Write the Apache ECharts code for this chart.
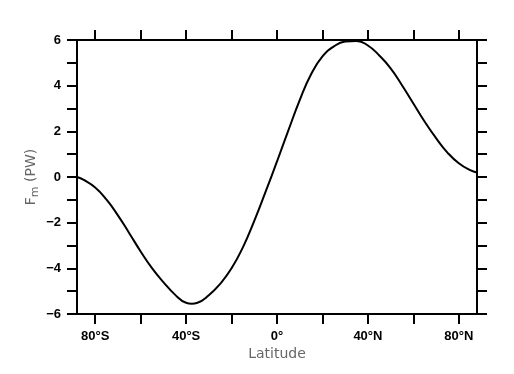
<!DOCTYPE html>
<html>
<head>
<meta charset="utf-8">
<script src="https://cdn.jsdelivr.net/npm/echarts@6/dist/echarts.min.js"></script>
<style>html,body{margin:0;padding:0;background:#fff;}#c{width:514px;height:374px;}</style>
</head>
<body>
<div id="c"></div>
<script>
const latitudes = [-88,-85,-80,-75,-70,-65,-60,-55,-50,-45,-40,-37.5,-35,-30,-25,-20,-15,-10,-5,0,5,10,15,20,25,30,35,40,45,50,55,60,65,70,75,80,85,88];
const fluxPW = [0.0,-0.13,-0.46,-0.99,-1.68,-2.46,-3.26,-3.99,-4.6,-5.14,-5.51,-5.55,-5.51,-5.18,-4.68,-4.0,-3.08,-1.92,-0.64,0.68,2.04,3.37,4.5,5.28,5.72,5.93,5.96,5.76,5.32,4.76,4.02,3.22,2.42,1.7,1.07,0.6,0.3,0.2];
const xTickValues = [-80,-60,-40,-20,0,20,40,60,80];
const xLabelValues = [-80,-40,0,40,80];
const xMin = -88, xMax = 88;
const yMin = -6, yMax = 6, yStep = 2;

function latLabel(v){
  if (v === 0) return '0°';
  return Math.abs(v) + '°' + (v < 0 ? 'S' : 'N');
}

const lineStyle = {color:'#000', width:2};
const labelFont = {color:'#000', fontSize:13, fontFamily:'Liberation Sans, Arial, sans-serif', fontWeight:'bold'};

const chart = echarts.init(document.getElementById('c'), null, {renderer:'canvas'});
chart.setOption({
  animation:false,
  backgroundColor:'#fff',
  grid:{left:77, right:37, top:40, bottom:60},
  xAxis:[{
    type:'value', position:'bottom', min:xMin, max:xMax,
    axisLine:{show:true, onZero:false, lineStyle:lineStyle},
    axisTick:{show:true, inside:false, length:10, customValues:xTickValues, lineStyle:lineStyle},
    axisLabel:{show:true, margin:16, customValues:xLabelValues, formatter:latLabel, ...labelFont},
    splitLine:{show:false},
    name:'Latitude', nameLocation:'middle', nameGap:33, nameMoveOverlap:false,
    nameTextStyle:{color:'#666', fontSize:14, fontFamily:'DejaVu Sans, sans-serif'}
  },{
    type:'value', position:'top', min:xMin, max:xMax,
    axisLine:{show:true, onZero:false, lineStyle:lineStyle},
    axisTick:{show:true, inside:false, length:10, customValues:xTickValues, lineStyle:lineStyle},
    axisLabel:{show:false},
    splitLine:{show:false}
  }],
  yAxis:[{
    type:'value', position:'left', min:yMin, max:yMax, interval:yStep,
    axisLine:{show:true, onZero:false, lineStyle:lineStyle},
    axisTick:{show:true, inside:false, length:10, lineStyle:lineStyle},
    minorTick:{show:true, splitNumber:2, length:10, lineStyle:lineStyle},
    axisLabel:{show:true, margin:16, formatter:v => (v < 0 ? '\u2212' + Math.abs(v) : String(v)), ...labelFont},
    splitLine:{show:false},
    name:'F{sub|m} (PW)', nameLocation:'middle', nameGap:36, nameRotate:90, nameMoveOverlap:false,
    nameTextStyle:{color:'#666', fontSize:14, fontFamily:'DejaVu Sans, sans-serif',
      rich:{sub:{color:'#666', fontSize:11, fontFamily:'DejaVu Sans, sans-serif', verticalAlign:'bottom', padding:[8,0,0,0]}}}
  },{
    type:'value', position:'right', min:yMin, max:yMax, interval:yStep,
    axisLine:{show:true, onZero:false, lineStyle:lineStyle},
    axisTick:{show:true, inside:false, length:10, lineStyle:lineStyle},
    minorTick:{show:true, splitNumber:2, length:10, lineStyle:lineStyle},
    axisLabel:{show:false},
    splitLine:{show:false}
  }],
  series:[{
    type:'line', xAxisIndex:0, yAxisIndex:0,
    data: latitudes.map((lat,i)=>[lat, fluxPW[i]]),
    smooth:0.5, symbol:'none',
    lineStyle:{color:'#000', width:2}
  }]
});
</script>
</body>
</html>
